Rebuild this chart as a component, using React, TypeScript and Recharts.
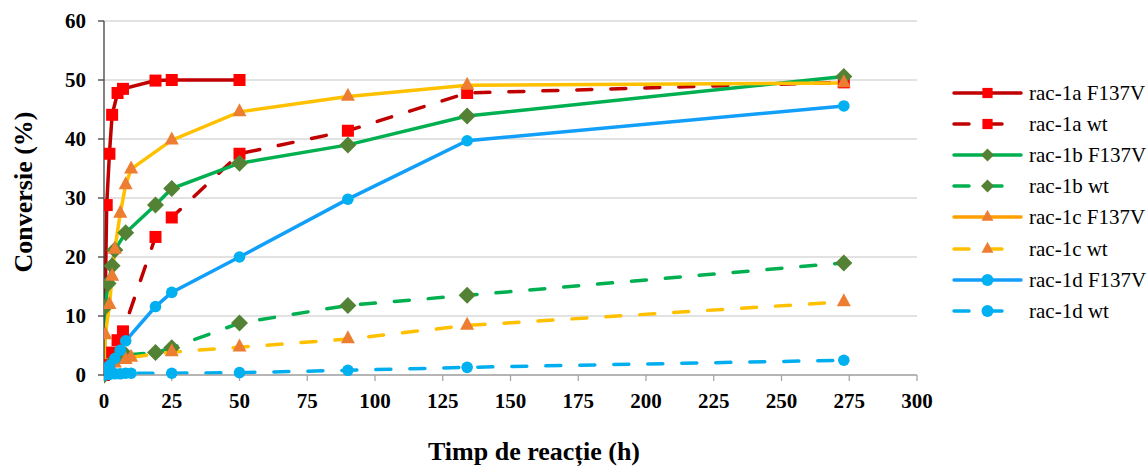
import React from "react";
import { CartesianGrid, Line, LineChart, XAxis, YAxis } from "recharts";

const xTicks = [0, 25, 50, 75, 100, 125, 150, 175, 200, 225, 250, 275, 300];
const yTicks = [0, 10, 20, 30, 40, 50, 60];

// time (h) / conversion (%) per series
const t1aF137V = [0, 1, 2, 3, 5, 7, 19, 25, 50];
const c1aF137V = [0, 28.8, 37.5, 44.1, 47.8, 48.5, 49.9, 50, 50];
const t1aWt = [0, 0.5, 3, 5, 7, 19, 25, 50, 90, 134, 273];
const c1aWt = [0, 1.7, 3.8, 5.9, 7.4, 23.4, 26.7, 37.5, 41.4, 47.8, 49.6];
const t1bF137V = [0, 0.5, 1.5, 3, 4, 8, 19, 25, 50, 90, 134, 273];
const c1bF137V = [0, 11.6, 15.5, 18.5, 21.2, 24.1, 28.8, 31.6, 35.9, 39, 43.9, 50.6];
const t1bWt = [0, 4, 8, 19, 25, 50, 90, 134, 273];
const c1bWt = [0, 2.6, 3.4, 3.8, 4.6, 8.8, 11.8, 13.5, 19];
const t1cF137V = [0, 0.5, 2, 3, 4, 6, 8, 10, 25, 50, 90, 134, 273];
const c1cF137V = [0, 6.8, 11.9, 16.7, 21.3, 27.4, 32.2, 34.9, 39.8, 44.6, 47.2, 49.1, 49.5];
const t1cWt = [0, 2, 4, 8, 10, 25, 50, 90, 134, 273];
const c1cWt = [0, 1.2, 2, 2.6, 3, 3.9, 4.7, 6.1, 8.4, 12.4];
const t1dF137V = [0, 1, 2, 4, 6, 8, 19, 25, 50, 90, 134, 273];
const c1dF137V = [0, 0.8, 1.6, 2.8, 4.2, 5.8, 11.6, 14, 20, 29.8, 39.7, 45.6];
const t1dWt = [0, 2, 4, 6, 8, 10, 25, 50, 90, 134, 273];
const c1dWt = [0, 0.1, 0.2, 0.2, 0.3, 0.3, 0.3, 0.4, 0.8, 1.3, 2.5];

type Shape = "square" | "diamond" | "triangle" | "circle";

const series = [
  { name: "rac-1a F137V", t: t1aF137V, c: c1aF137V, line: "#C00000", legendLine: "#C00000", marker: "#FF0000", shape: "square" as Shape, dashed: false },
  { name: "rac-1a wt", t: t1aWt, c: c1aWt, line: "#C00000", legendLine: "#C00000", marker: "#FF0000", shape: "square" as Shape, dashed: true },
  { name: "rac-1b F137V", t: t1bF137V, c: c1bF137V, line: "#00B050", legendLine: "#00B050", marker: "#548235", shape: "diamond" as Shape, dashed: false },
  { name: "rac-1b wt", t: t1bWt, c: c1bWt, line: "#00B050", legendLine: "#00B050", marker: "#548235", shape: "diamond" as Shape, dashed: true },
  { name: "rac-1c F137V", t: t1cF137V, c: c1cF137V, line: "#FFC000", legendLine: "#FFA000", marker: "#ED7D31", shape: "triangle" as Shape, dashed: false },
  { name: "rac-1c wt", t: t1cWt, c: c1cWt, line: "#FFC000", legendLine: "#FFC000", marker: "#ED7D31", shape: "triangle" as Shape, dashed: true },
  { name: "rac-1d F137V", t: t1dF137V, c: c1dF137V, line: "#119FFA", legendLine: "#119FFA", marker: "#00B0F0", shape: "circle" as Shape, dashed: false },
  { name: "rac-1d wt", t: t1dWt, c: c1dWt, line: "#00AEEF", legendLine: "#00AEEF", marker: "#00B0F0", shape: "circle" as Shape, dashed: true },
];

const FONT = "Liberation Serif";

function Marker({ cx, cy, shape, fill, small }: { cx: number; cy: number; shape: Shape; fill: string; small?: boolean }) {
  const k = small ? 0.85 : 1;
  if (shape === "square") {
    const s = 12 * k;
    return <rect x={cx - s / 2} y={cy - s / 2} width={s} height={s} fill={fill} />;
  }
  if (shape === "diamond") {
    const h = small ? 6.5 : 8.5;
    return <polygon points={`${cx},${cy - h} ${cx + h},${cy} ${cx},${cy + h} ${cx - h},${cy}`} fill={fill} />;
  }
  if (shape === "triangle") {
    const w = 14 * k;
    const h = 13 * k;
    return (
      <polygon
        points={`${cx},${cy - (h * 2) / 3} ${cx + w / 2},${cy + h / 3} ${cx - w / 2},${cy + h / 3}`}
        fill={fill}
      />
    );
  }
  return <circle cx={cx} cy={cy} r={small ? 6 : 5.8} fill={fill} />;
}

function XTick(p: any) {
  return (
    <text x={p.x} y={p.y} dy="0.71em" textAnchor="middle" fill="#000" fontSize={21} fontWeight={700} fontFamily={FONT}>
      {p.payload.value}
    </text>
  );
}

function YTick(p: any) {
  return (
    <text x={p.x} y={p.y} dy="0.34em" textAnchor="end" fill="#000" fontSize={21} fontWeight={700} fontFamily={FONT}>
      {p.payload.value}
    </text>
  );
}

export default function App() {
  return (
    <div style={{ position: "absolute", left: 0, top: 0, width: 1148, height: 468, background: "#fff", fontFamily: FONT }}>
      <LineChart width={1148} height={468} margin={{ top: 21, right: 231, bottom: 63, left: 44 }}>
        <CartesianGrid vertical={false} stroke="#D9D9D9" strokeWidth={1.3} />
        <XAxis
          dataKey="t"
          type="number"
          domain={[0, 300]}
          ticks={xTicks}
          height={30}
          allowDataOverflow
          stroke="#A6A6A6"
          strokeWidth={1.3}
          tickSize={6}
          tickMargin={12}
          tick={<XTick />}
        />
        <YAxis
          type="number"
          domain={[0, 60]}
          ticks={yTicks}
          width={60}
          stroke="#404040"
          strokeWidth={1.3}
          tickSize={6}
          tickMargin={12}
          tick={<YTick />}
        />
        {series.map((s) => (
          <Line
            key={s.name}
            data={s.t.map((t, i) => ({ t, c: s.c[i] }))}
            dataKey="c"
            name={s.name}
            type="linear"
            stroke={s.line}
            strokeWidth={3.5}
            strokeDasharray={s.dashed ? "15 19" : undefined}
            strokeLinecap="round"
            isAnimationActive={false}
            activeDot={false}
            dot={(p: any) =>
              p.cx == null ? (
                <g key={p.index} />
              ) : (
                <Marker key={p.index} cx={p.cx} cy={p.cy} shape={s.shape} fill={s.marker} />
              )
            }
          />
        ))}
      </LineChart>

      <div
        style={{
          position: "absolute",
          left: 534,
          top: 439,
          transform: "translateX(-50%)",
          whiteSpace: "nowrap",
          fontWeight: 700,
          fontSize: 26,
          lineHeight: "26px",
        }}
      >
        Timp de reacție (h)
      </div>
      <div
        style={{
          position: "absolute",
          left: 24,
          top: 192,
          transform: "translate(-50%, -50%) rotate(-90deg)",
          whiteSpace: "nowrap",
          fontWeight: 700,
          fontSize: 26,
          lineHeight: "26px",
        }}
      >
        Conversie (%)
      </div>

      {series.map((s, i) => (
        <div key={s.name} style={{ position: "absolute", left: 948, top: 81 + i * 31.1, height: 24 }}>
          <svg width={80} height={24} style={{ position: "absolute", left: 0, top: 0 }}>
            {s.dashed ? (
              <g stroke={s.legendLine} strokeWidth={3.5} strokeLinecap="round">
                <line x1={6} y1={12} x2={21} y2={12} />
                <line x1={42} y1={12} x2={54} y2={12} />
              </g>
            ) : (
              <line x1={6} y1={12} x2={73} y2={12} stroke={s.legendLine} strokeWidth={3.5} strokeLinecap="round" />
            )}
            <Marker cx={39.5} cy={12} shape={s.shape} fill={s.marker} small />
          </svg>
          <div
            style={{
              position: "absolute",
              left: 81,
              top: 0,
              whiteSpace: "nowrap",
              fontSize: 21,
              lineHeight: "24px",
              color: "#000",
            }}
          >
            {s.name}
          </div>
        </div>
      ))}
    </div>
  );
}
